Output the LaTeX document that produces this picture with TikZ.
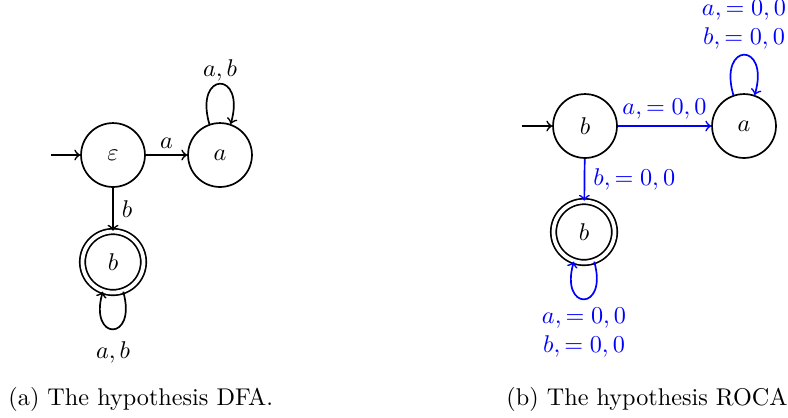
\documentclass[tikz,border=0pt]{standalone}
\usetikzlibrary{automata}
\begin{document}
\begin{tikzpicture}[x=0.413pt,y=-0.413pt,
  st/.style={circle, draw, minimum size=26.4pt, inner sep=0pt, line width=0.7pt},
  acc/.style={circle, draw, minimum size=25.2pt, inner sep=0pt, line width=0.7pt, double, double distance=1.55pt},
  tr/.style={->, line width=0.7pt},
  rtr/.style={tr, blue},
  captext/.style={anchor=west, inner sep=0pt}]
\useasboundingbox (0,0) rectangle (788,417);
% (a) DFA
\node[st] (e) at (113,155) {$\varepsilon$};
\node[st] (a) at (220,155) {$a$};
\node[acc] (b) at (113,262) {$b$};
\coordinate (ia) at (51,155);
\draw[tr] (ia) -- (e);
\draw[tr] (e) -- node[above, yshift=-1pt] {$a$} (a);
\draw[tr] (e) -- node[right] {$b$} (b);
\draw[tr] (a.109) .. controls +(106:23pt) and +(74:23pt) .. node[pos=0.5, above, yshift=-2.5pt] {$a,b$} (a.71);
\draw[tr] (b.289) .. controls +(286:21.5pt) and +(254:21.5pt) .. node[pos=0.5, below, yshift=-1.5pt] {$a,b$} (b.251);
% (b) ROCA
\node[st] (rb) at (585,126) {$b$};
\node[st] (ra) at (744,126) {$a$};
\node[acc] (rf) at (584,232) {$b$};
\coordinate (ib) at (522,126);
\draw[tr] (ib) -- (rb);
\draw[rtr] (rb) -- node[above, yshift=-1pt] {$a,=0,0$} (ra);
\draw[rtr] (rb) -- node[right] {$b,=0,0$} (rf);
\draw[rtr] (ra.109) .. controls +(106:23pt) and +(74:23pt) .. node[pos=0.5, above, align=center, yshift=-1.5pt] {$a,=0,0$\\$b,=0,0$} (ra.71);
\draw[rtr] (rf.289) .. controls +(286:21.5pt) and +(254:21.5pt) .. node[pos=0.5, below, align=center] {$a,=0,0$\\$b,=0,0$} (rf.251);
% captions
\node[captext] (ca) at (8,399) {(a) The hypothesis DFA.};
\node[captext] (cb) at (506,399) {(b) The hypothesis ROCA};
\end{tikzpicture}
\end{document}
